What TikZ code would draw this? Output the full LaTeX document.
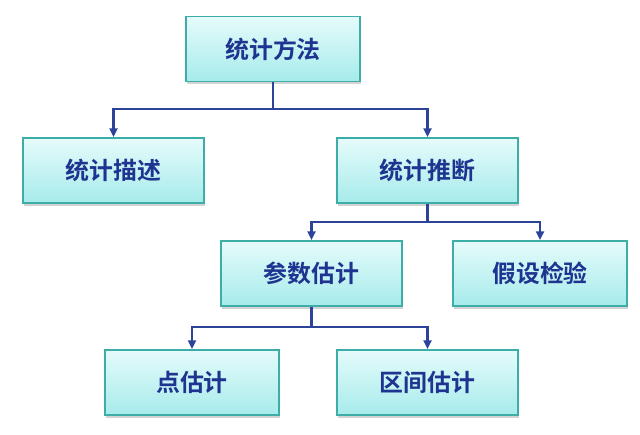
\documentclass[tikz,border=0pt]{standalone}
\usepackage{fontspec}
\newfontfamily\cjk{Noto Sans CJK SC}[BoldFont={Noto Sans CJK SC Bold}]
\usepackage{tikz}
\usetikzlibrary{arrows.meta,positioning,shadows}
\definecolor{boxtop}{HTML}{E6FBFB}
\definecolor{boxbot}{HTML}{A6EBEB}
\definecolor{boxedge}{HTML}{3DADA8}
\definecolor{txtblue}{HTML}{1E3490}
\definecolor{linkblue}{HTML}{2B4499}
\tikzset{
  box/.style={draw=boxedge, line width=1.1pt, top color=boxtop, bottom color=boxbot,
    minimum height=1.63cm, align=center, font=\cjk\bfseries\fontsize{17}{20}\selectfont, text=txtblue,
    drop shadow={opacity=0.35, shadow xshift=1pt, shadow yshift=-2pt}},
  link/.style={line width=1.5pt, draw=linkblue},
  arr/.style={link, -{Triangle[length=2.2mm, width=2mm]}}
}
\begin{document}
\begin{tikzpicture}
  \useasboundingbox (0,0) rectangle (16,10.85);
  % boxes
  \node[box, minimum width=4.35cm]  (fa) at (6.825,9.625)   {统计方法};
  \node[box, minimum width=4.525cm] (ms) at (2.8375,6.5875) {统计描述};
  \node[box, minimum width=4.525cm] (tl) at (10.6875,6.5875) {统计推断};
  \node[box, minimum width=4.525cm] (cs) at (7.7875,4.0125) {参数估计};
  \node[box, minimum width=4.35cm]  (jy) at (13.5,4.0125)   {假设检验};
  \node[box, minimum width=4.35cm]  (dg) at (4.8,1.2875)    {点估计};
  \node[box, minimum width=4.525cm] (qj) at (10.6875,1.2875) {区间估计};
  % junctions
  \coordinate (j1) at (6.825,8.125);
  \coordinate (j2) at (10.6875,5.3);
  \coordinate (j3) at (7.7875,2.675);
  % links
  \draw[link] (fa.south) -- (j1);
  \draw[arr] (j1) -| (ms.north);
  \draw[arr] (j1) -| (tl.north);
  \draw[link] (tl.south) -- (j2);
  \draw[arr] (j2) -| (cs.north);
  \draw[arr] (j2) -| (jy.north);
  \draw[link] (cs.south) -- (j3);
  \draw[arr] (j3) -| (dg.north);
  \draw[arr] (j3) -| (qj.north);
\end{tikzpicture}
\end{document}
